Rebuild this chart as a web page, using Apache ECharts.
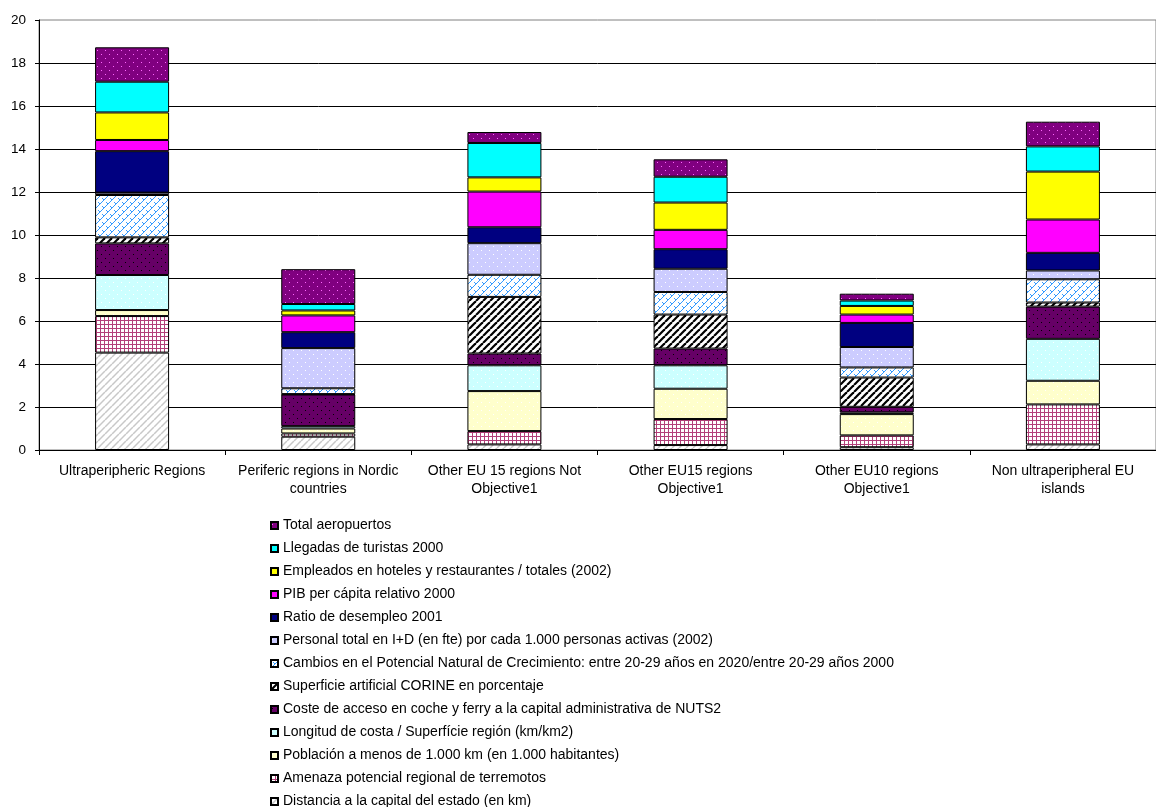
<!DOCTYPE html>
<html>
<head>
<meta charset="utf-8">
<script src="https://cdn.jsdelivr.net/npm/echarts@6/dist/echarts.min.js"></script>
<style>
html,body{margin:0;padding:0;background:#fff;}
#chart{width:1156px;height:807px;}
</style>
</head>
<body>
<div id="chart"></div>
<script>
// ---- Data ----
const categories = [
  'Ultraperipheric Regions',
  'Periferic regions in Nordic\ncountries',
  'Other EU 15 regions Not\nObjective1',
  'Other EU15 regions\nObjective1',
  'Other EU10 regions\nObjective1',
  'Non ultraperipheral EU\nislands'
];
const yTicks = { min: 0, max: 20, interval: 2 };

const seriesNames = [
  'Distancia a la capital del estado (en km)',
  'Amenaza potencial regional de terremotos',
  'Población a menos de 1.000 km (en 1.000 habitantes)',
  'Longitud de costa / Superfície región (km/km2)',
  'Coste de acceso en coche y ferry a la capital administrativa de NUTS2',
  'Superficie artificial CORINE en porcentaje',
  'Cambios en el Potencial Natural de Crecimiento: entre 20-29 años en 2020/entre 20-29 años 2000',
  'Personal total en I+D (en fte) por cada 1.000 personas activas (2002)',
  'Ratio de desempleo 2001',
  'PIB per cápita relativo 2000',
  'Empleados en hoteles y restaurantes / totales (2002)',
  'Llegadas de turistas 2000',
  'Total aeropuertos'
];

const distancia  = [4.53, 0.62, 0.26, 0.23, 0.13, 0.26];
const amenaza    = [1.70, 0.15, 0.62, 1.21, 0.55, 1.86];
const poblacion  = [0.28, 0.23, 1.86, 1.41, 0.99, 1.10];
const longitud   = [1.63, 0.11, 1.20, 1.09, 0.08, 1.95];
const coste      = [1.47, 1.47, 0.55, 0.78, 0.26, 1.50];
const superficie = [0.28, 0.02, 2.63, 1.58, 1.36, 0.19];
const cambios    = [1.97, 0.27, 1.03, 1.05, 0.47, 1.08];
const personal   = [0.11, 1.87, 1.47, 1.08, 0.95, 0.41];
const ratio      = [1.93, 0.74, 0.74, 0.91, 1.12, 0.82];
const pib        = [0.52, 0.78, 1.66, 0.90, 0.39, 1.55];
const empleados  = [1.28, 0.23, 0.66, 1.27, 0.40, 2.23];
const llegadas   = [1.43, 0.30, 1.60, 1.20, 0.25, 1.17];
const aeropuertos= [1.60, 1.62, 0.51, 0.81, 0.32, 1.15];

const seriesValues = [distancia, amenaza, poblacion, longitud, coste, superficie,
  cambios, personal, ratio, pib, empleados, llegadas, aeropuertos];

// ---- Patterns (styles) ----
function tile(size, bg, draw) {
  const c = document.createElement('canvas');
  c.width = size; c.height = size;
  const g = c.getContext('2d');
  g.fillStyle = bg; g.fillRect(0, 0, size, size);
  draw(g, size);
  return { image: c, repeat: 'repeat' };
}
function stripes(color, width) {
  return function (g, s) {
    g.strokeStyle = color; g.lineWidth = width;
    for (const k of [-s, 0, s]) {
      g.beginPath(); g.moveTo(k, s); g.lineTo(k + s, 0); g.stroke();
    }
  };
}
function dots(color, pts) {
  return function (g) {
    g.fillStyle = color;
    pts.forEach(p => g.fillRect(p[0], p[1], 1, 1));
  };
}
const dotPts = [[1, 2], [5, 6]];
const fills = [
  tile(7, '#ffffff', stripes('#c8c8c8', 1.5)),                // distancia
  tile(4, '#ffffff', function (g) {                           // amenaza grid
    g.fillStyle = '#b3407a'; g.fillRect(0, 0, 4, 1); g.fillRect(0, 0, 1, 4);
  }),
  tile(8, '#ffffcc', dots('#ffffff', dotPts)),                 // poblacion
  tile(8, '#ccffff', dots('#ffffff', dotPts)),                 // longitud
  tile(8, '#660066', dots('#000000', dotPts)),                 // coste
  tile(7, '#ffffff', stripes('#000000', 2.2)),                 // superficie
  tile(8, '#ffffff', function (g, s) {                         // cambios bricks
    g.strokeStyle = '#3399ff'; g.lineWidth = 1;
    for (const k of [-s, 0, s]) {
      g.beginPath(); g.moveTo(k, s); g.lineTo(k + s, 0); g.stroke();
    }
    g.beginPath(); g.moveTo(2, 2); g.lineTo(4, 4); g.stroke();
    g.beginPath(); g.moveTo(6, 6); g.lineTo(8, 8); g.stroke();
  }),
  tile(8, '#ccccff', dots('#ffffff', dotPts)),                 // personal
  '#000080',                                                    // ratio
  '#ff00ff',                                                    // pib
  '#ffff00',                                                    // empleados
  '#00ffff',                                                    // llegadas
  tile(8, '#800080', dots('#ff66ff', dotPts))                  // aeropuertos
];

const series = seriesNames.map((name, i) => ({
  name: name,
  type: 'bar',
  stack: 'total',
  barWidth: 74,
  data: seriesValues[i],
  itemStyle: { color: fills[i], borderColor: '#000000', borderWidth: 1 },
  emphasis: { disabled: true }
}));

const font = 'Liberation Sans, Arial, sans-serif';
const chart = echarts.init(document.getElementById('chart'));
chart.setOption({
  animation: false,
  backgroundColor: '#ffffff',
  grid: { left: 39, top: 20, width: 1128, height: 430, show: true,
          borderColor: '#808080', borderWidth: 1, backgroundColor: 'transparent' },
  xAxis: {
    type: 'category',
    data: categories,
    axisLine: { lineStyle: { color: '#000', width: 1 } },
    axisTick: { show: true, length: 5, lineStyle: { color: '#000' } },
    axisLabel: { interval: 0, color: '#000', fontFamily: font, fontSize: 14,
                 lineHeight: 18, margin: 12 }
  },
  yAxis: {
    type: 'value',
    min: yTicks.min, max: yTicks.max, interval: yTicks.interval,
    axisLine: { show: true, lineStyle: { color: '#000', width: 1 } },
    axisTick: { show: true, length: 4, lineStyle: { color: '#000' } },
    axisLabel: { color: '#000', fontFamily: font, fontSize: 13.5, margin: 13 },
    splitLine: { show: true, showMaxLine: false, lineStyle: { color: '#000', width: 1 } }
  },
  legend: {
    orient: 'vertical',
    left: 270,
    top: 518,
    height: 340,
    padding: 0,
    itemWidth: 7,
    itemHeight: 7,
    itemGap: 8,
    icon: 'rect',
    selectedMode: false,
    data: seriesNames.slice().reverse(),
    textStyle: { color: '#000', fontFamily: font, fontSize: 14, lineHeight: 15 }
  },
  series: series
});
</script>
</body>
</html>
